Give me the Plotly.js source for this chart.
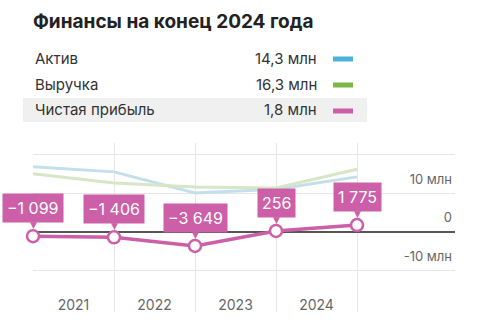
<!DOCTYPE html>
<html>
<head>
<meta charset="utf-8">
<script src="https://cdn.plot.ly/plotly-3.0.1.min.js"></script>
<style>
  html, body { margin: 0; padding: 0; background: #fff; }
  #chart { width: 477px; height: 323px; }
</style>
</head>
<body>
<div id="chart"></div>
<script>
// Year-end points (index 0..4) and the year spans between them
const points = [0, 1, 2, 3, 4];
const yearLabels = ['2021', '2022', '2023', '2024'];
const yearPositions = [0.5, 1.5, 2.5, 3.5];

// Values, million rubles
const assets = [16.9, 15.6, 10.1, 11.1, 14.3];
const revenue = [15.1, 12.7, 11.7, 11.4, 16.3];
// Net profit, thousand rubles
const profit = [-1099, -1406, -3649, 256, 1775];

const seriesNames = ['Актив', 'Выручка', 'Чистая прибыль'];
const seriesColors = ['#4db1dd', '#7db646', '#cc5fa8'];
const fadedColors = ['#c3dfec', '#d6e6c6'];

const yTicks = [-10, 0, 10, 20];
const yTickText = ['-10 млн', '0', '10 млн', ''];

const FONT = 'Inter, "Noto Sans", sans-serif';
const W = 477, H = 323;
const M = { l: 33, r: 22, t: 143, b: 11 };
const PW = W - M.l - M.r, PH = H - M.t - M.b;
const px = x => (x - M.l) / PW;
const py = y => (H - M.b - y) / PH;

const profitMln = profit.map(v => v / 1000);

function fmtThousands(v) {
  const s = Math.abs(v).toString().replace(/\B(?=(\d{3})+(?!\d))/g, ' ');
  return (v < 0 ? '\u2212' : '') + s;
}
function fmtMln(v) {
  return v.toFixed(1).replace('.', ',') + ' млн';
}

const traces = [
  {
    x: points, y: assets, name: seriesNames[0], type: 'scatter', mode: 'lines',
    line: { color: fadedColors[0], width: 3 }, hoverinfo: 'skip'
  },
  {
    x: points, y: revenue, name: seriesNames[1], type: 'scatter', mode: 'lines',
    line: { color: fadedColors[1], width: 3 }, hoverinfo: 'skip'
  },
  {
    x: points, y: profitMln, name: seriesNames[2], type: 'scatter', mode: 'lines+markers',
    line: { color: seriesColors[2], width: 3.5 },
    marker: { size: 12, color: '#fff', line: { color: seriesColors[2], width: 2.5 } },
    cliponaxis: false, hoverinfo: 'skip'
  }
];

const annotations = [];
const shapes = [];

// Legend block: name, last value, colour swatch
const lastValues = [assets[4], revenue[4], profitMln[4]];
const rowY = [58, 84, 110];
shapes.push({
  type: 'rect', xref: 'paper', yref: 'paper', layer: 'below',
  x0: px(23), x1: px(367), y0: py(122), y1: py(98),
  fillcolor: '#f0f0f0', line: { width: 0 }
});
seriesNames.forEach((name, i) => {
  annotations.push({
    xref: 'paper', yref: 'paper', x: px(33), y: py(rowY[i]),
    xanchor: 'left', yanchor: 'middle', showarrow: false, text: name,
    font: { family: FONT, size: 15, color: '#333' }
  });
  annotations.push({
    xref: 'paper', yref: 'paper', x: px(319), y: py(rowY[i]),
    xanchor: 'right', yanchor: 'middle', showarrow: false, text: fmtMln(lastValues[i]),
    font: { family: FONT, size: 15, color: '#333' }
  });
  shapes.push({
    type: 'line', xref: 'paper', yref: 'paper',
    x0: px(333), x1: px(353), y0: py(rowY[i] + 1), y1: py(rowY[i] + 1),
    line: { color: seriesColors[i], width: 5 }
  });
});

// Value callouts above each profit point
points.forEach((p, i) => {
  annotations.push({
    x: p, y: profitMln[i], xref: 'x', yref: 'y',
    text: '▼', showarrow: false, xanchor: 'center', yanchor: 'bottom',
    yshift: 4, font: { family: 'DejaVu Sans', size: 9, color: seriesColors[2] }
  });
  annotations.push({
    x: p, y: profitMln[i], xref: 'x', yref: 'y',
    text: fmtThousands(profit[i]), showarrow: false,
    xanchor: 'center', yanchor: 'bottom', yshift: 13,
    bgcolor: seriesColors[2], borderpad: 4,
    font: { family: FONT, size: 16, color: '#fff' }
  });
});

const layout = {
  width: W, height: H,
  margin: M,
  paper_bgcolor: '#fff', plot_bgcolor: '#fff',
  showlegend: false,
  title: {
    text: '<b>Финансы на конец 2024 года</b>',
    x: 33 / W, xref: 'container', xanchor: 'left',
    y: 1 - 21 / H, yref: 'container', yanchor: 'middle',
    font: { family: FONT, size: 19, color: '#222' }
  },
  xaxis: {
    range: [0, PW / 81], fixedrange: true,
    tickvals: yearPositions, ticktext: yearLabels,
    ticklabelposition: 'inside', ticklabelstandoff: -4, ticks: '',
    showgrid: false, zeroline: false, showline: false,
    tickfont: { family: FONT, size: 14, color: '#666' },
    minor: { tickvals: points, showgrid: true, gridcolor: '#e6e6e6', gridwidth: 1, ticks: '' }
  },
  yaxis: {
    range: [-20.8, 23.1], fixedrange: true, side: 'right',
    tickvals: yTicks, ticktext: yTickText,
    ticklabelposition: 'inside', ticklabelshift: -14, ticks: '',
    showgrid: true, gridcolor: '#e6e6e6', gridwidth: 1,
    zeroline: true, zerolinecolor: '#555', zerolinewidth: 1.5,
    showline: false,
    tickfont: { family: FONT, size: 13, color: '#666' }
  },
  annotations: annotations,
  shapes: shapes
};

Plotly.newPlot('chart', traces, layout, { displayModeBar: false, staticPlot: true });
</script>
</body>
</html>
